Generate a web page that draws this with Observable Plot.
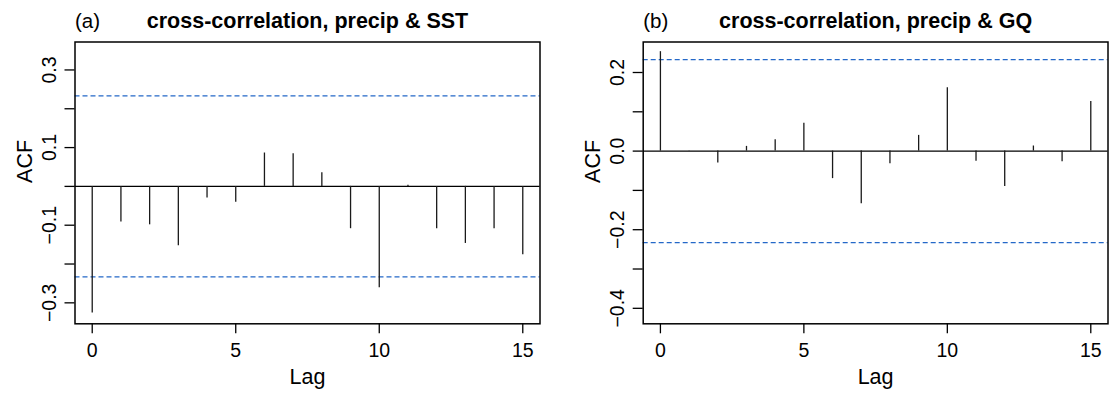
<!DOCTYPE html>
<html>
<head>
<meta charset="utf-8">
<script src="https://cdn.jsdelivr.net/npm/d3@7"></script>
<script src="https://cdn.jsdelivr.net/npm/@observablehq/plot@0.6"></script>
<style>
  body { margin: 0; background: #fff; }
  #fig { display: flex; width: 1109px; height: 399px; overflow: hidden; }
  #fig svg { flex: none; }
</style>
</head>
<body>
<div id="fig"></div>
<script>
// Sample cross-correlations of monthly precipitation with SST and with GQ
const lags = [0, 1, 2, 3, 4, 5, 6, 7, 8, 9, 10, 11, 12, 13, 14, 15];
const ccfSST = [-0.326, -0.092, -0.099, -0.153, -0.030, -0.041, 0.086, 0.084,
                0.035, -0.109, -0.261, 0.003, -0.109, -0.147, -0.109, -0.176];
const ccfGQ = [0.253, 0.001, -0.030, 0.012, 0.029, 0.071, -0.070, -0.134,
               -0.032, 0.040, 0.161, -0.026, -0.090, 0.013, -0.027, 0.126];

// approximate 95% bounds for zero correlation
const boundSST = 0.233;
const boundGQ = 0.233;

const xTicks = [0, 5, 10, 15];
const yTicksSST = [-0.3, -0.2, -0.1, 0, 0.1, 0.2, 0.3];
const yLabelsSST = [-0.3, -0.1, 0.1, 0.3];
const yTicksGQ = [-0.4, -0.3, -0.2, -0.1, 0, 0.1, 0.2];
const yLabelsGQ = [-0.4, -0.2, 0, 0.2];

const FONT = "'Liberation Sans', Arial, Helvetica, sans-serif";
const BLUE = "#2468c8";
const fmt = d3.format(".1f");

function panel({tag, title, values, bound, yDomain, yTicks, yLabels, width, marginLeft, marginRight}) {
  const rows = lags.map((lag, i) => ({lag, acf: values[i]}));
  return Plot.plot({
    width,
    height: 399,
    marginTop: 41.5,
    marginBottom: 75.7,
    marginLeft,
    marginRight,
    style: {fontFamily: FONT, background: "white", color: "black", overflow: "visible"},
    x: {domain: [-0.6, 15.6]},
    y: {domain: yDomain},
    marks: [
      Plot.ruleY([bound, -bound], {stroke: BLUE, strokeWidth: 1.3, strokeDasharray: "5 3"}),
      Plot.ruleY([0], {stroke: "black", strokeWidth: 1.3}),
      Plot.ruleX(rows, {x: "lag", y1: 0, y2: "acf", stroke: "#1a1a1a", strokeWidth: 1.3}),
      Plot.frame({stroke: "black", strokeWidth: 1.5}),
      Plot.axisX(xTicks, {tickSize: 10, tickPadding: 9.5, fontSize: 19.5, strokeWidth: 1.3, label: null}),
      Plot.axisY(yTicks, {
        tickSize: 10, tickPadding: 9.5, tickRotate: -90, fontSize: 19.5, strokeWidth: 1.3, label: null,
        tickFormat: (d) => (yLabels.includes(d) ? fmt(d) : "")
      }),
      Plot.text(["ACF"], {frameAnchor: "left", rotate: -90, dx: -49.7, fontSize: 21.5}),
      Plot.text(["Lag"], {frameAnchor: "bottom", dy: 59.8, fontSize: 21.5}),
      Plot.text([tag], {frameAnchor: "top-left", textAnchor: "start", lineAnchor: "bottom", dy: -14, fontSize: 20.5}),
      Plot.text([title], {frameAnchor: "top", lineAnchor: "bottom", dy: -14, fontSize: 21.5, fontWeight: "bold"})
    ]
  });
}

const fig = document.getElementById("fig");
fig.append(panel({
  tag: "(a)",
  title: "cross-correlation, precip & SST",
  values: ccfSST,
  bound: boundSST,
  yDomain: [-0.354, 0.372],
  yTicks: yTicksSST,
  yLabels: yLabelsSST,
  width: 560,
  marginLeft: 74.5,
  marginRight: 20.5
}));
fig.append(panel({
  tag: "(b)",
  title: "cross-correlation, precip & GQ",
  values: ccfGQ,
  bound: boundGQ,
  yDomain: [-0.4394, 0.2776],
  yTicks: yTicksGQ,
  yLabels: yLabelsGQ,
  width: 549,
  marginLeft: 82.7,
  marginRight: 1.5
}));
</script>
</body>
</html>
